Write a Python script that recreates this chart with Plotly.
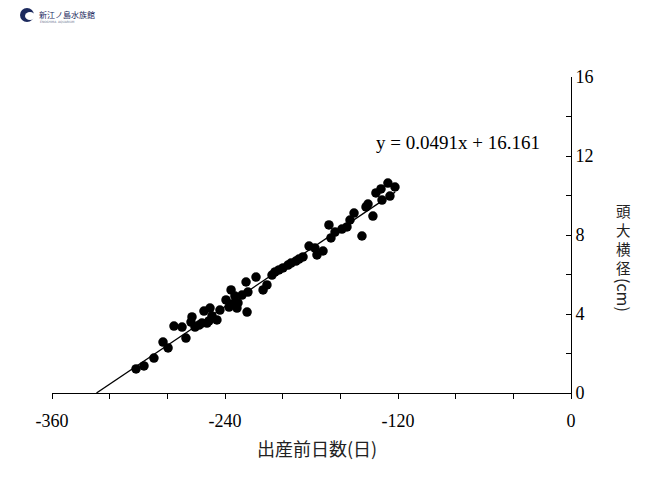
import plotly.graph_objects as go

# Days before birth (x) and head biparietal diameter in cm (y)
days = [-301.7, -296.2, -289.3, -283.0, -279.5, -275.4, -269.8, -267.1, -262.9, -263.6,
        -260.8, -258.0, -256.0, -254.6, -252.5, -250.4, -249.0, -251.1, -245.6, -243.5,
        -239.3, -237.2, -235.8, -235.2, -233.1, -231.7, -231.0, -228.2, -225.4, -224.7,
        -224.1, -218.5, -213.6, -210.9, -207.4, -205.3, -202.6, -199.8, -196.3, -194.2,
        -190.8, -188.7, -185.9, -181.7, -177.6, -176.2, -172.0, -167.9, -166.5, -163.7,
        -158.9, -155.4, -153.3, -150.5, -145.0, -142.2, -140.8, -137.4, -135.3, -131.8,
        -131.1, -127.0, -125.6, -122.1]
bpd = [1.22, 1.37, 1.77, 2.58, 2.28, 3.39, 3.34, 2.78, 3.85, 3.59,
       3.34, 3.44, 3.54, 4.15, 3.54, 4.30, 3.90, 3.65, 3.70, 4.20,
       4.71, 4.35, 5.22, 4.51, 4.91, 4.30, 4.56, 4.96, 5.62, 4.10,
       5.11, 5.87, 5.22, 5.47, 5.97, 6.13, 6.23, 6.33, 6.48, 6.58,
       6.68, 6.78, 6.89, 7.44, 7.34, 6.99, 7.19, 8.51, 7.85, 8.15,
       8.30, 8.41, 8.76, 9.11, 7.95, 9.42, 9.57, 8.96, 10.13, 10.33,
       9.77, 10.63, 9.97, 10.43]

slope = 0.0491
intercept = 16.161
trend_x = [-intercept / slope, -122.0]
trend_y = [slope * v + intercept for v in trend_x]

x_tickvals = [-360, -320, -280, -240, -200, -160, -120, -80, -40, 0]
x_ticktext = ["-360", "", "", "-240", "", "", "-120", "", "", "0"]
y_tickvals = [0, 2, 4, 6, 8, 10, 12, 14, 16]
y_ticktext = ["0", "", "4", "", "8", "", "12", "", "16"]

equation = "y = 0.0491x + 16.161"
x_title = "出産前日数(日)"
y_title_chars = ["頭", "大", "横", "径"]
y_title_unit = "(cm)"

# page body adds an 8px offset; compensate
OFF = 8
L, R, T, B = 52 - OFF, 89, 77 - OFF, 102
PW, PH = 519, 316
W, H = L + PW + R, T + PH + B


def px(xp):
    return (xp - OFF - L) / PW


def py(yp):
    return (T + PH - (yp - OFF)) / PH


fig = go.Figure()
fig.add_trace(go.Scatter(x=trend_x, y=trend_y, mode="lines",
                         line=dict(color="black", width=1.3), hoverinfo="skip"))
fig.add_trace(go.Scatter(x=days, y=bpd, mode="markers",
                         marker=dict(color="black", size=9.5, line=dict(width=0))))

serif = "Liberation Serif, Times New Roman, serif"
cjk = "Noto Sans CJK JP, sans-serif"

fig.update_layout(
    width=W, height=H,
    margin=dict(l=L, r=R, t=T, b=B),
    paper_bgcolor="white", plot_bgcolor="white",
    showlegend=False,
    xaxis=dict(range=[-360, 0], tickvals=x_tickvals, ticktext=x_ticktext,
               ticks="outside", ticklen=5, tickcolor="black", tickwidth=1,
               showline=True, linecolor="black", linewidth=1,
               showgrid=False, zeroline=False,
               tickfont=dict(family=serif, size=18, color="black"),
               ticklabelstandoff=6),
    yaxis=dict(range=[0, 16], tickvals=y_tickvals, ticktext=y_ticktext,
               side="right", ticks="inside", ticklen=5, tickcolor="black", tickwidth=1,
               showline=True, linecolor="black", linewidth=1,
               showgrid=False, zeroline=False,
               tickfont=dict(family=serif, size=18, color="black")),
)

annotations = [
    dict(x=px(457.5), y=py(142), xref="paper", yref="paper", text=equation,
         showarrow=False, xanchor="center", yanchor="middle",
         font=dict(family=serif, size=19, color="black")),
    dict(x=px(317), y=py(448), xref="paper", yref="paper", text=x_title,
         showarrow=False, xanchor="center", yanchor="middle",
         font=dict(family=cjk, size=18, color="#222222")),
    dict(x=px(623), y=py(239), xref="paper", yref="paper", text="<br>".join(y_title_chars),
         showarrow=False, xanchor="center", yanchor="middle", borderpad=0,
         font=dict(family=cjk, size=14.5, color="#222222")),
    dict(x=px(624), y=py(295), xref="paper", yref="paper", text=y_title_unit,
         textangle=90, showarrow=False, xanchor="center", yanchor="middle",
         font=dict(family=cjk, size=16, color="#222222")),
    # logo text
    dict(x=px(37), y=py(14), xref="paper", yref="paper", text="新江ノ島水族館",
         showarrow=False, xanchor="left", yanchor="middle",
         font=dict(family=cjk, size=8, color="#1c2a5e")),
    dict(x=px(38), y=py(22.5), xref="paper", yref="paper", text="ENOSHIMA  AQUARIUM",
         showarrow=False, xanchor="left", yanchor="middle",
         font=dict(family="DejaVu Sans", size=3, color="#6a7390")),
]
fig.update_layout(annotations=annotations)

# logo icon
fig.add_shape(type="circle", xref="paper", yref="paper",
              x0=px(20), x1=px(34), y0=py(22), y1=py(8),
              fillcolor="#1c2a5e", line=dict(width=0), layer="above")
fig.add_shape(type="circle", xref="paper", yref="paper",
              x0=px(25), x1=px(35), y0=py(20), y1=py(12),
              fillcolor="white", line=dict(width=0), layer="above")

fig.write_html("out.html")
